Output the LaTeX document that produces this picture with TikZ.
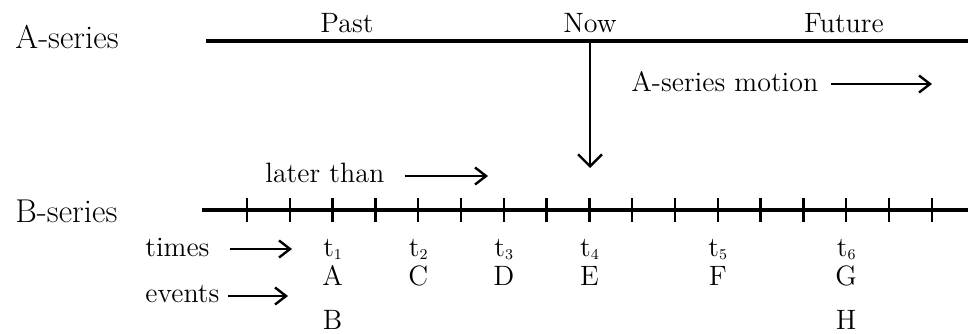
\documentclass[tikz,border=0pt]{standalone}
\usepackage{fontspec}
\usetikzlibrary{arrows.meta}

\begin{document}
\begin{tikzpicture}[x=0.5pt,y=-0.5pt,
	txt/.style={anchor=base,inner sep=0pt,font=\fontsize{14}{16}\selectfont},
	lefttxt/.style={txt,anchor=base west},
	serieslbl/.style={anchor=base west,inner sep=0pt,font=\fontsize{16.5}{18}\selectfont},
	arr/.style={line width=1.2pt,-{Straight Barb[length=5.5pt,width=8.5pt,line width=1.2pt]}},
	downarr/.style={line width=1.2pt,-{Straight Barb[length=6pt,width=12pt,line width=1.2pt]}},
	tickmark/.style={line width=1.2pt}]
			\useasboundingbox (0,0) rectangle (968,333);
			%%%%% A-SERIES %%%%%
			
			\node[serieslbl] (aser) at (15,48) {A-series};
			\coordinate (aleft) at (206,41);
			\coordinate (aright) at (968,41);
			\draw[line width=2pt] (aleft) -- (aright);
			
			\node[txt] (past) at (347,32) {Past};
			\node[txt] (now) at (590,32) {Now};
			\node[txt] (future) at (844,32) {Future};
			
			\node[lefttxt] (amotion) at (631,91) {A-series motion};
			\coordinate (amotionend) at (932,84);
			\draw[arr] (amotion.east |- amotionend) ++(12,0) -- (amotionend);
			
			\coordinate (nowtop) at (590,42);
			\coordinate (nowtip) at (590,168);
			\draw[downarr] (nowtop) -- (nowtip);
			
			%%%%% B-SERIES %%%%%
			
			\node[lefttxt] (later) at (265,182) {later than};
			\coordinate (laterend) at (488,176);
			\draw[arr] (later.east |- laterend) ++(20,0) -- (laterend);
			
			\node[serieslbl] (bser) at (15,222) {B-series};
			\coordinate (bleft) at (202,210);
			\coordinate (bright) at (968,210);
			\draw[line width=1.8pt] (bleft) -- (bright);
			\foreach \k in {0,...,16}
				\draw[tickmark] ({247+42.8*\k},198) -- ({247+42.8*\k},222);
			
			\node[lefttxt] (times) at (145,256) {times};
			\coordinate (timesend) at (292,249);
			\draw[arr] (times.east |- timesend) ++(20,0) -- (timesend);
			
			\node[lefttxt] (events) at (145,302) {events};
			\coordinate (eventsend) at (288,296);
			\draw[arr] (events.east |- eventsend) ++(8,0) -- (eventsend);
			
			\foreach \k/\i/\e in {2/1/A,4/2/C,6/3/D,8/4/E,11/5/F,14/6/G}{
				\node[txt] (t\i) at ({247+42.8*\k},256) {t\raisebox{-0.3ex}{\fontsize{7.5}{8}\selectfont\i}};
				\node[txt] (ev\e) at ({247+42.8*\k},285) {\e};
			}
			\node[txt] (evB) at (evA.base |- 0,329) {B};
			\node[txt] (evH) at (evG.base |- 0,329) {H};
			
			%%%%% END %%%%%
\end{tikzpicture}
\end{document}
